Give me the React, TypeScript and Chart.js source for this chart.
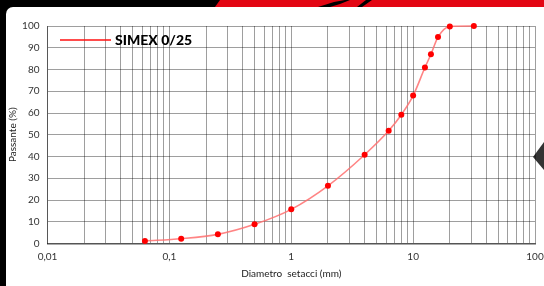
import React, { useEffect, useRef } from "react";
import { Chart, registerables } from "chart.js";

Chart.register(...registerables);

const SERIES_NAME = "SIMEX 0/25";
const SIEVE_MM = [0.063, 0.125, 0.25, 0.5, 1, 2, 4, 6.3, 8, 10, 12.5, 14, 16, 20, 31.5];
const PASSING = [1.2, 2.2, 4.2, 8.8, 15.7, 26.5, 40.8, 51.8, 59.2, 68, 80.9, 87, 94.9, 99.8, 100];
const X_MAJOR = [0.01, 0.1, 1, 10, 100];
const X_MAJOR_LABELS = ["0,01", "0,1", "1", "10", "100"];
const X_TITLE = "Diametro  setacci (mm)";
const Y_TITLE = "Passante (%)";

const FONT = "Lato, 'Open Sans', sans-serif";

const legendPlugin = {
  id: "insideLegend",
  afterDatasetsDraw(chart: any) {
    const ctx = chart.ctx;
    ctx.save();
    ctx.strokeStyle = "#ff1010";
    ctx.lineWidth = 1.5;
    ctx.beginPath();
    ctx.moveTo(60, 40);
    ctx.lineTo(111, 40);
    ctx.stroke();
    ctx.fillStyle = "#000";
    ctx.font = `900 14px ${FONT}`;
    ctx.textBaseline = "middle";
    ctx.fillText(SERIES_NAME, 115, 40);
    ctx.restore();
  },
};

export default function App() {
  const ref = useRef<HTMLCanvasElement>(null);

  useEffect(() => {
    if (!ref.current) return;
    const gridVals: number[] = [];
    for (let i = 0; i < X_MAJOR.length - 1; i++) {
      for (let k = 1; k < 10; k++) gridVals.push(+(X_MAJOR[i] * k).toPrecision(3));
    }
    gridVals.push(X_MAJOR[X_MAJOR.length - 1]);

    const chart = new Chart(ref.current, {
      type: "line",
      data: {
        datasets: [
          {
            label: SERIES_NAME,
            data: SIEVE_MM.map((x, i) => ({ x, y: PASSING[i] })),
            borderColor: "rgba(255,110,110,0.85)",
            borderWidth: 1.6,
            cubicInterpolationMode: "monotone",
            pointRadius: 3,
            pointBackgroundColor: "#ff0000",
            pointBorderWidth: 0,
            clip: false as any,
          },
        ],
      },
      options: {
        animation: false,
        responsive: false,
        layout: { padding: { top: 26, right: 9, left: 0, bottom: 0 } },
        plugins: { legend: { display: false }, tooltip: { enabled: false } },
        scales: {
          x: {
            type: "logarithmic",
            min: 0.01,
            max: 100,
            afterBuildTicks: (scale: any) => {
              scale.ticks = gridVals.map((v) => ({ value: v }));
            },
            afterFit: (scale: any) => {
              scale.height = 42.5;
              scale.paddingLeft = 0;
              scale.paddingRight = 0;
            },
            ticks: {
              autoSkip: false,
              maxRotation: 0,
              padding: 7,
              color: "#333",
              font: { family: FONT, size: 10 },
              callback: (v: any) => {
                const idx = X_MAJOR.findIndex((m) => Math.abs(m - Number(v)) < m * 1e-6);
                return idx >= 0 ? X_MAJOR_LABELS[idx] : "";
              },
            },
            grid: { color: "rgba(0,0,0,0.38)", lineWidth: 1, drawTicks: false },
            border: { color: "#555", width: 1.5 },
            title: {
              display: true,
              text: X_TITLE,
              color: "#222",
              font: { family: FONT, size: 10 },
              padding: { top: 2, bottom: 6 },
            },
          },
          y: {
            min: 0,
            max: 100,
            afterFit: (scale: any) => {
              scale.width = 47.5;
              scale.paddingTop = 0;
              scale.paddingBottom = 0;
            },
            ticks: {
              stepSize: 10,
              padding: 8,
              color: "#333",
              font: { family: FONT, size: 10 },
            },
            grid: { color: "rgba(0,0,0,0.38)", lineWidth: 1, drawTicks: false },
            border: { color: "rgba(0,0,0,0.45)", width: 1 },
            title: {
              display: true,
              text: Y_TITLE,
              color: "#222",
              font: { family: FONT, size: 10 },
              padding: { top: 7, bottom: 2 },
            },
          },
        },
      },
      plugins: [legendPlugin],
    });
    return () => chart.destroy();
  }, []);

  return (
    <div style={{ position: "fixed", left: 0, top: 0, width: 544, height: 286, background: "#000", overflow: "hidden" }}>
      <div
        style={{
          position: "absolute",
          left: 0,
          top: 0,
          width: 544,
          height: 7,
          background: "#e30613",
          clipPath: "polygon(215px 7px, 220px 0px, 544px 0px, 544px 7px)",
        }}
      />
      <div
        style={{
          position: "absolute",
          left: 0,
          top: 0,
          width: 544,
          height: 7,
          background: "#000",
          clipPath: "polygon(318px 7px, 334px 2px, 345px 0px, 350px 0px, 340px 4px, 330px 7px)",
        }}
      />
      <div
        style={{
          position: "absolute",
          left: 0,
          top: 0,
          width: 544,
          height: 7,
          background: "#000",
          clipPath: "polygon(357px 7px, 366px 0px, 372px 0px, 362px 7px)",
        }}
      />
      <div
        style={{
          position: "absolute",
          left: 6,
          top: 7,
          width: 538,
          height: 279,
          background: "#fff",
          borderTopLeftRadius: 7,
        }}
      />
      <div
        style={{
          position: "absolute",
          left: 0,
          top: 0,
          width: 544,
          height: 286,
          background: "#333",
          clipPath: "polygon(533px 157px, 544px 142px, 544px 170px)",
        }}
      />
      <canvas ref={ref} width={544} height={286} style={{ position: "absolute", left: 0, top: 0, width: 544, height: 286 }} />
    </div>
  );
}
